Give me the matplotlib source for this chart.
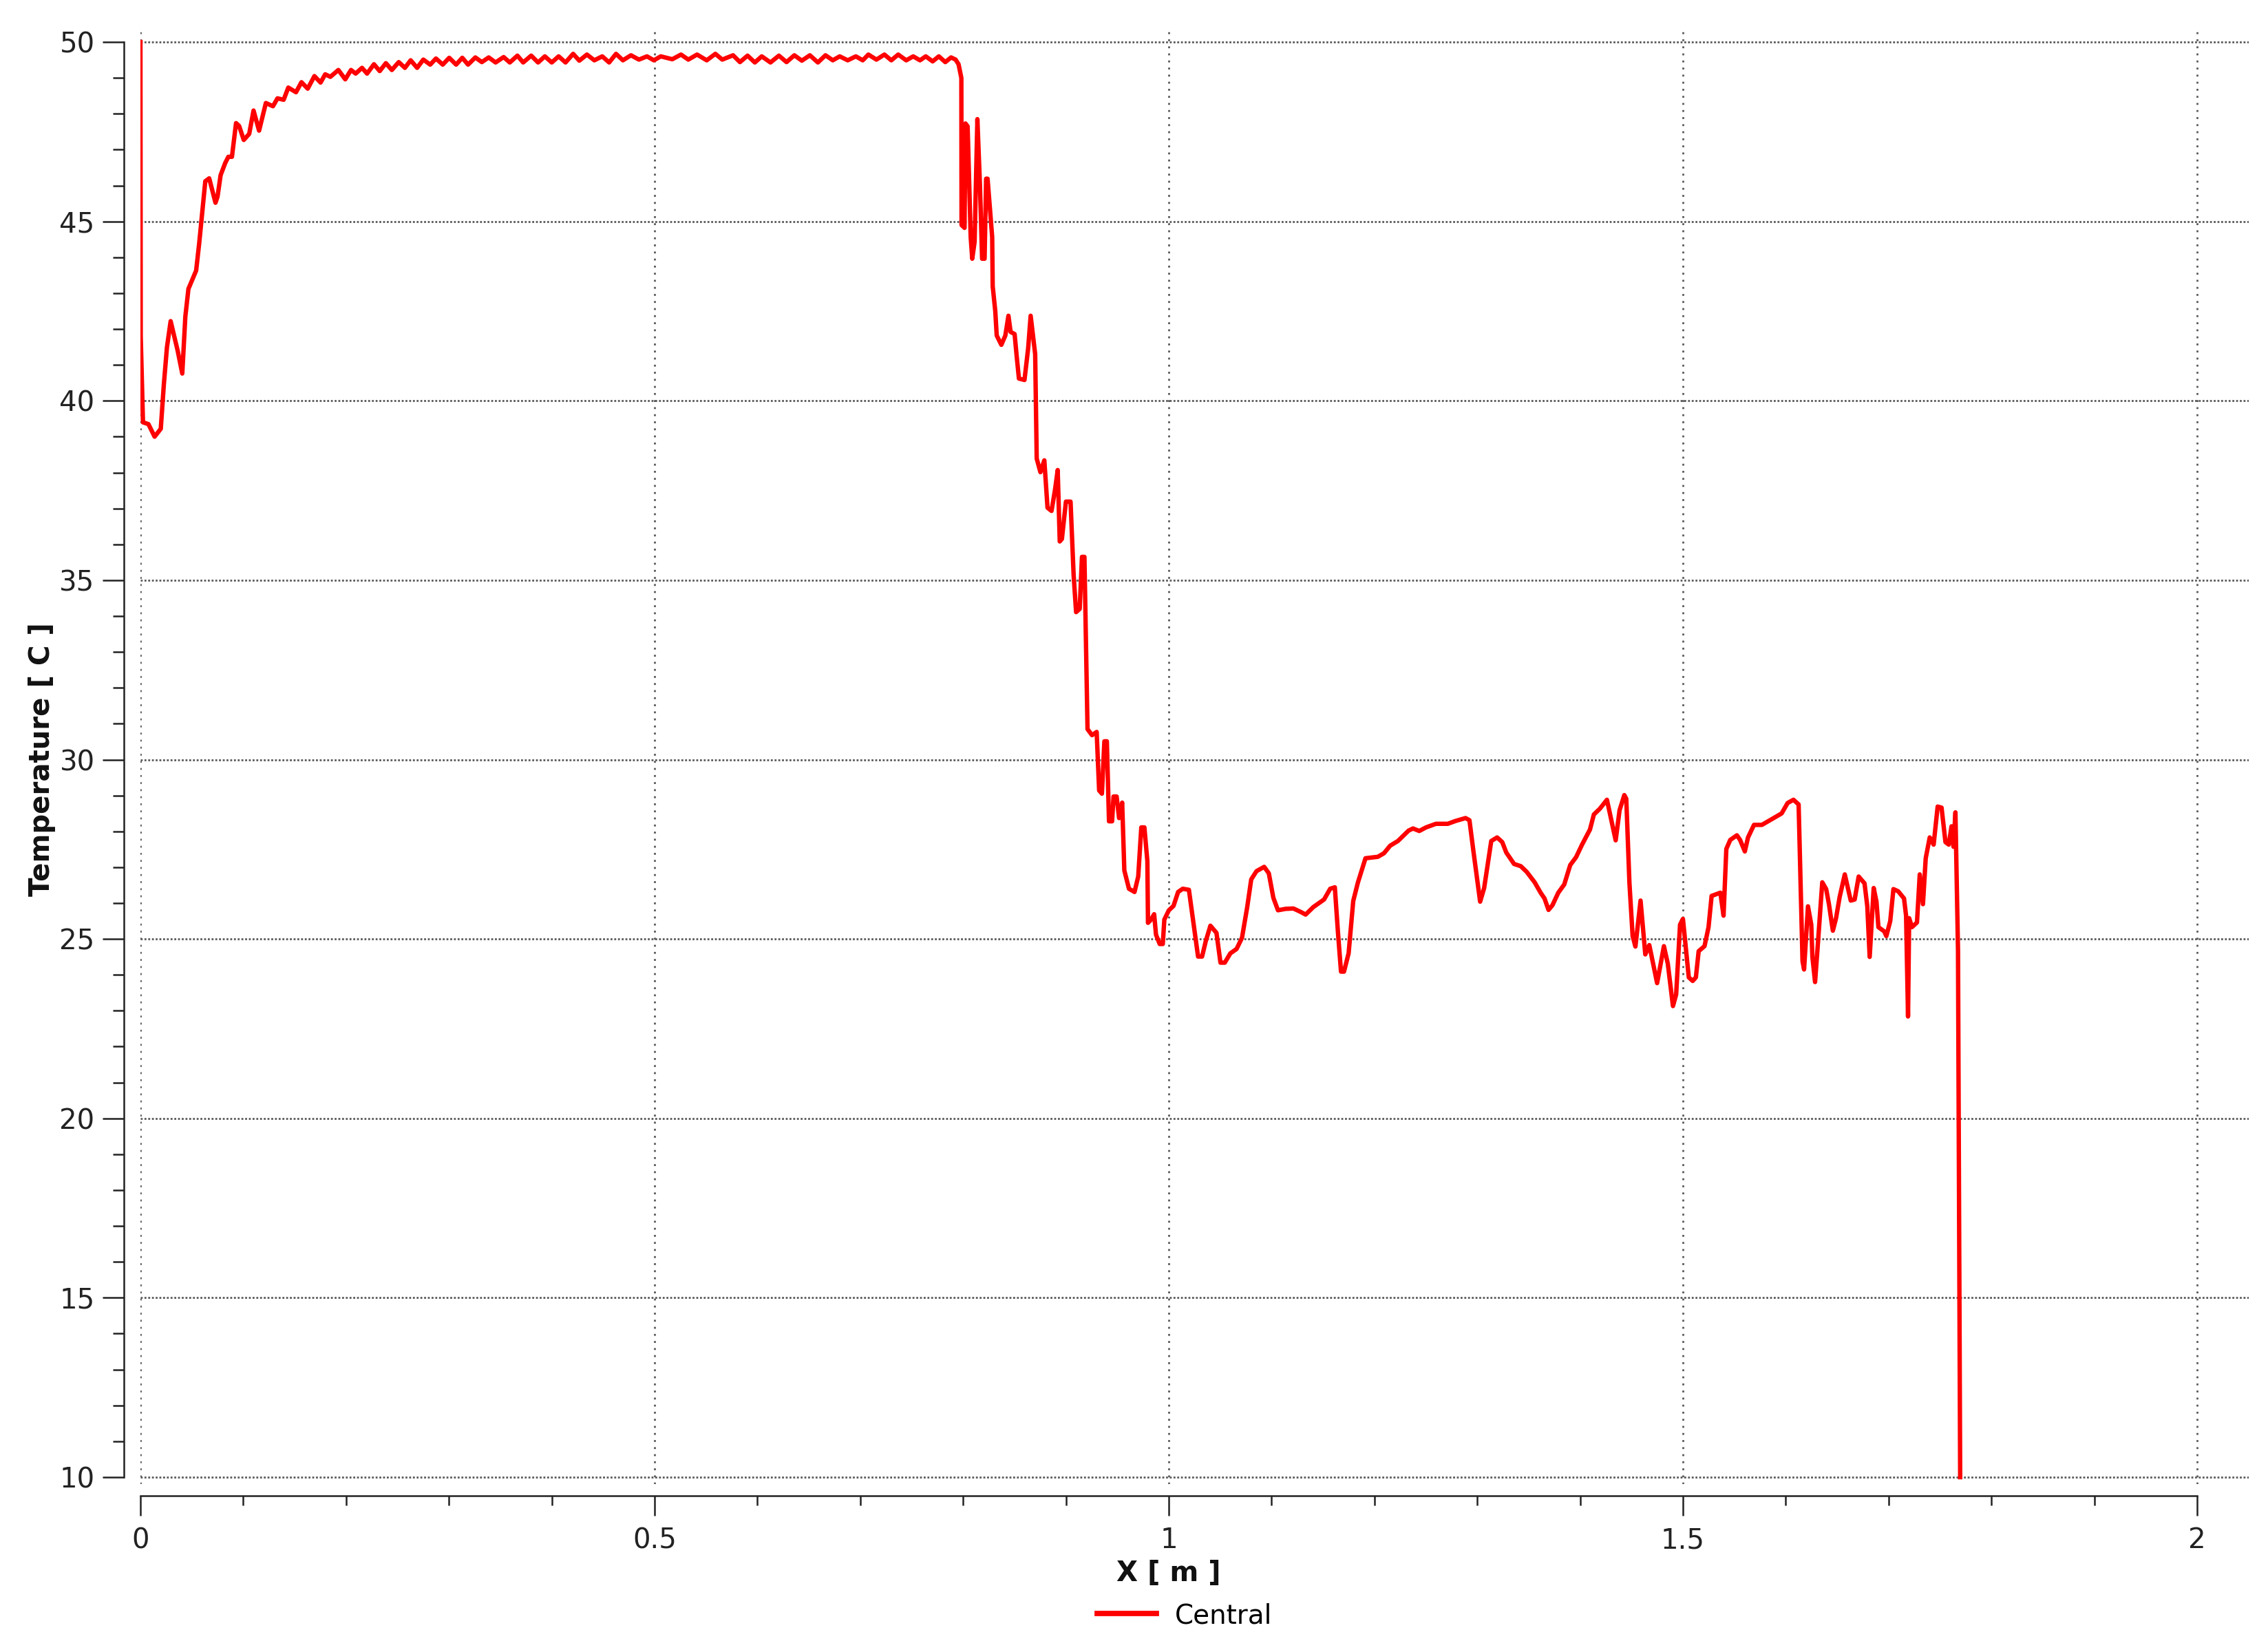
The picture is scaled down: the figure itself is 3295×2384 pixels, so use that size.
import matplotlib
matplotlib.use('Agg')
import matplotlib.pyplot as plt
from matplotlib.ticker import MultipleLocator, FixedLocator, FixedFormatter

# temperature along the centre line
# rise from the inlet
x_rise = [0, 0.0003, 0.0025, 0.0078, 0.0138, 0.0198, 0.0228, 0.0258, 0.0294, 0.0362,
          0.0407, 0.0437, 0.0467, 0.0542, 0.0572, 0.061, 0.0631, 0.0669, 0.073, 0.075,
          0.078, 0.0825, 0.0855, 0.089, 0.093, 0.096, 0.1005, 0.1058, 0.11, 0.1154,
          0.122, 0.1289, 0.1333, 0.1393, 0.1438, 0.1513, 0.1566, 0.1627, 0.1692, 0.1752,
          0.1797]
t_rise = [50, 41.8, 39.4, 39.35, 39.0, 39.22, 40.46, 41.49, 42.22, 41.4,
          40.76, 42.35, 43.12, 43.63, 44.40, 45.52, 46.12, 46.2, 45.52, 45.69,
          46.29, 46.63, 46.80, 46.80, 47.74, 47.66, 47.27, 47.44, 48.09, 47.53,
          48.30, 48.21, 48.43, 48.39, 48.73, 48.60, 48.88, 48.70, 49.05, 48.87,
          49.10]

# rippled plateau
x_plateau = [0.1847, 0.1925, 0.1992, 0.2048, 0.2093, 0.2155, 0.2204, 0.2271, 0.2327, 0.2387,
             0.2445, 0.2512, 0.2572, 0.2628, 0.2691, 0.2751, 0.2818, 0.2874, 0.2940, 0.3003,
             0.3070, 0.3130, 0.3186, 0.3257, 0.3320, 0.3387, 0.3454, 0.3532, 0.3592, 0.3666,
             0.3722, 0.3800, 0.3867, 0.3933, 0.4000, 0.4067, 0.4134, 0.4208, 0.4268, 0.4342,
             0.4414, 0.4491, 0.4558, 0.4625, 0.4692, 0.4770, 0.4848, 0.4926, 0.4993,
             0.5060, 0.5172, 0.5257, 0.5328, 0.5413, 0.5507, 0.5591, 0.5658, 0.5763, 0.5830,
             0.5904, 0.5975, 0.6042, 0.6127, 0.6209, 0.6283, 0.6359, 0.6432, 0.6510, 0.6588,
             0.6662, 0.6733, 0.6800, 0.6878, 0.6957, 0.7024, 0.7079, 0.7157, 0.7235, 0.7302,
             0.7369, 0.7447, 0.7515, 0.7581, 0.7637, 0.7704, 0.7764, 0.7827, 0.7883, 0.7927,
             0.7956, 0.7983]
t_plateau = [49.03, 49.22, 48.96, 49.22, 49.12, 49.28, 49.12, 49.38, 49.19, 49.41,
             49.22, 49.44, 49.28, 49.49, 49.28, 49.51, 49.37, 49.54, 49.37, 49.56,
             49.37, 49.56, 49.37, 49.57, 49.44, 49.57, 49.43, 49.58, 49.43, 49.62,
             49.43, 49.62, 49.43, 49.60, 49.43, 49.60, 49.43, 49.67, 49.48, 49.65,
             49.49, 49.60, 49.43, 49.67, 49.49, 49.63, 49.51, 49.60, 49.49,
             49.60, 49.52, 49.65, 49.51, 49.65, 49.49, 49.67, 49.51, 49.63, 49.44,
             49.62, 49.43, 49.60, 49.43, 49.62, 49.44, 49.63, 49.48, 49.63, 49.43,
             49.63, 49.49, 49.60, 49.49, 49.60, 49.49, 49.65, 49.51, 49.65, 49.49,
             49.65, 49.49, 49.60, 49.49, 49.60, 49.46, 49.60, 49.44, 49.57, 49.51,
             49.38, 49.00]

# the big drop down to ~25 C, (x, T) pairs
drop_points = [
    (0.7985, 44.90), (0.8014, 44.82), (0.8023, 47.73), (0.8044, 47.65), (0.8074, 44.56),
    (0.8089, 43.96), (0.8112, 44.43), (0.8139, 47.85), (0.8164, 46.01), (0.8185, 43.96),
    (0.8209, 43.96), (0.8224, 46.19), (0.8238, 46.19), (0.8283, 44.56), (0.8288, 43.19),
    (0.8313, 42.50), (0.8327, 41.82), (0.8372, 41.56), (0.8411, 41.82), (0.8441, 42.37),
    (0.8462, 41.92), (0.8501, 41.86), (0.8522, 41.22), (0.8543, 40.62), (0.8597, 40.58),
    (0.8633, 41.47), (0.8657, 42.37), (0.8701, 41.30), (0.8716, 38.39), (0.8752, 38.01),
    (0.8790, 38.34), (0.8821, 37.02), (0.8860, 36.93), (0.8895, 37.54), (0.8920, 38.07),
    (0.8940, 36.08), (0.8961, 36.15), (0.9000, 37.19), (0.9045, 37.19), (0.9075, 35.14),
    (0.9099, 34.11), (0.9134, 34.20), (0.9156, 35.65), (0.9180, 35.65), (0.9210, 30.85),
    (0.9254, 30.68), (0.9299, 30.77), (0.9323, 29.14), (0.9350, 29.05), (0.9374, 30.51),
    (0.9398, 30.51), (0.9419, 28.28), (0.9449, 28.28), (0.9463, 28.97), (0.9493, 28.97),
    (0.9517, 28.37), (0.9547, 28.80), (0.9568, 26.91), (0.9613, 26.40), (0.9667, 26.31),
    (0.9703, 26.74), (0.9733, 28.11), (0.9763, 28.11), (0.9792, 27.17), (0.9798, 25.45),
    (0.9828, 25.54), (0.9858, 25.69), (0.9876, 25.12), (0.9912, 24.86), (0.9942, 24.86),
    (0.9957, 25.54), (1.0001, 25.80), (1.0046, 25.92), (1.0091, 26.31), (1.0136, 26.40),
    (1.0196, 26.37), (1.0240, 25.45), (1.0285, 24.51), (1.0324, 24.51), (1.0360, 24.94),
    (1.0405, 25.37), (1.0464, 25.17), (1.0503, 24.34), (1.0545, 24.34), (1.0599, 24.60),
    (1.0659, 24.72), (1.0712, 25.03), (1.0763, 25.89), (1.0802, 26.66), (1.0853, 26.89),
    (1.0928, 27.01), (1.0973, 26.83), (1.1017, 26.15), (1.1062, 25.80), (1.1137, 25.84),
    (1.1212, 25.85), (1.1286, 25.75), (1.1331, 25.68), (1.1406, 25.89), (1.1510, 26.10),
    (1.1570, 26.40), (1.1615, 26.44), (1.1645, 25.20), (1.1675, 24.09), (1.1704, 24.09),
    (1.1749, 24.60), (1.1794, 26.06), (1.1839, 26.57), (1.1913, 27.25), (1.2033, 27.29),
    (1.2093, 27.39), (1.2153, 27.60), (1.2228, 27.73), (1.2332, 28.02),
]

# noisy tail and the outlet spike down to 10 C
tail_points = [
    (1.2375, 28.08), (1.2436, 28.01), (1.2502, 28.11), (1.2598, 28.21), (1.2713, 28.21),
    (1.2790, 28.29), (1.2886, 28.37), (1.2924, 28.31), (1.2963, 27.44), (1.3028, 26.04),
    (1.3067, 26.42), (1.3136, 27.73), (1.3193, 27.83), (1.3243, 27.70), (1.3282, 27.41),
    (1.3358, 27.09), (1.3423, 27.03), (1.3481, 26.87), (1.3558, 26.58), (1.3616, 26.29),
    (1.3654, 26.13), (1.3693, 25.81), (1.3731, 25.94), (1.3788, 26.29), (1.3846, 26.52),
    (1.3904, 27.06), (1.3961, 27.28), (1.4019, 27.63), (1.4096, 28.05), (1.4134, 28.47),
    (1.4192, 28.63), (1.4261, 28.88), (1.4307, 28.27), (1.4346, 27.75), (1.4384, 28.59),
    (1.4430, 29.01), (1.4449, 28.91), (1.4480, 26.55), (1.4511, 25.08), (1.4538, 24.79),
    (1.4588, 26.07), (1.4634, 24.57), (1.4673, 24.83), (1.4749, 23.77), (1.4815, 24.80),
    (1.4853, 24.31), (1.4903, 23.13), (1.4934, 23.45), (1.4972, 25.40), (1.5000, 25.56),
    (1.5057, 23.93), (1.5095, 23.83), (1.5126, 23.93), (1.5153, 24.66), (1.5210, 24.80),
    (1.5249, 25.33), (1.5279, 26.20), (1.5364, 26.29), (1.5395, 25.65), (1.5422, 27.51),
    (1.5460, 27.76), (1.5525, 27.89), (1.5556, 27.76), (1.5602, 27.44), (1.5633, 27.83),
    (1.5691, 28.18), (1.5768, 28.18), (1.5864, 28.34), (1.5960, 28.50), (1.6018, 28.79),
    (1.6075, 28.88), (1.6125, 28.75), (1.6163, 24.38), (1.6178, 24.15), (1.6216, 25.91),
    (1.6248, 25.40), (1.6259, 24.50), (1.6285, 23.80), (1.6316, 25.01), (1.6355, 26.58),
    (1.6393, 26.39), (1.6420, 25.97), (1.6458, 25.23), (1.6489, 25.58), (1.6524, 26.17),
    (1.6574, 26.80), (1.6632, 26.07), (1.6670, 26.10), (1.6709, 26.74), (1.6766, 26.55),
    (1.6793, 25.91), (1.6816, 24.50), (1.6855, 26.42), (1.6882, 26.04), (1.6901, 25.33),
    (1.6958, 25.21), (1.6978, 25.08), (1.7016, 25.50), (1.7047, 26.39), (1.7093, 26.33),
    (1.7150, 26.13), (1.7170, 25.65), (1.7189, 22.84), (1.7200, 25.58), (1.7227, 25.33),
    (1.7276, 25.46), (1.7303, 26.80), (1.7334, 25.97), (1.7361, 27.25), (1.7400, 27.83),
    (1.7438, 27.63), (1.7477, 28.69), (1.7515, 28.66), (1.7553, 27.70), (1.7585, 27.63),
    (1.7612, 28.14), (1.7631, 27.57), (1.7650, 28.53), (1.7675, 24.68), (1.7696, 10.0),
]

x_ticks = [0, 0.5, 1, 1.5, 2]
x_tick_labels = ['0', '0.5', '1', '1.5', '2']
y_ticks = [10, 15, 20, 25, 30, 35, 40, 45, 50]
y_tick_labels = ['10', '15', '20', '25', '30', '35', '40', '45', '50']

series_label = 'Central'
x_label = 'X [ m ]'
y_label = 'Temperature [ C ]'


def main():
    x = x_rise + x_plateau + [p[0] for p in drop_points] + [p[0] for p in tail_points]
    t = t_rise + t_plateau + [p[1] for p in drop_points] + [p[1] for p in tail_points]

    fig = plt.figure(figsize=(16.475, 11.92), dpi=200)
    ax = fig.add_axes([0.06191, 0.09547, 0.92950, 0.88549])

    ax.plot(x, t, color='#ff0000', lw=2.3, label=series_label, solid_joinstyle='round')

    ax.set_xlim(0, 2.05)
    ax.set_ylim(9.8, 50.3)

    # detached axes like the CFD-Post chart
    ax.spines['top'].set_visible(False)
    ax.spines['right'].set_visible(False)
    ax.spines['left'].set_position(('outward', 8.6))
    ax.spines['bottom'].set_position(('outward', 5.9))
    ax.spines['left'].set_bounds(10, 50)
    ax.spines['bottom'].set_bounds(0, 2)
    for s in ('left', 'bottom'):
        ax.spines[s].set_linewidth(0.9)
        ax.spines[s].set_color('#222222')

    ax.xaxis.set_major_locator(FixedLocator(x_ticks))
    ax.xaxis.set_major_formatter(FixedFormatter(x_tick_labels))
    ax.xaxis.set_minor_locator(MultipleLocator(0.1))
    ax.yaxis.set_major_locator(FixedLocator(y_ticks))
    ax.yaxis.set_major_formatter(FixedFormatter(y_tick_labels))
    ax.yaxis.set_minor_locator(MultipleLocator(1))

    ax.tick_params(axis='y', which='major', length=11, width=0.9, pad=4.3,
                   labelsize=14.5, color='#222222', labelcolor='#222222')
    ax.tick_params(axis='y', which='minor', length=5.8, width=0.9, color='#222222')
    ax.tick_params(axis='x', which='major', length=10.5, width=0.9, pad=5.8,
                   labelsize=14.5, color='#222222', labelcolor='#222222')
    ax.tick_params(axis='x', which='minor', length=5, width=0.9, color='#222222')

    # dotted grid
    ax.set_axisbelow(True)
    ax.xaxis.grid(True, color='#5a5a5a', lw=1.0, linestyle=(0, (1, 2.7)))
    ax.yaxis.grid(True, color='#5a5a5a', lw=1.0, linestyle=(0, (1, 0.95)))

    ax.set_xlabel(x_label, fontsize=14.5, fontweight='bold', color='#111111')
    ax.xaxis.set_label_coords(1 / 2.05, -0.052)
    ax.set_ylabel(y_label, fontsize=14.5, fontweight='bold', color='#111111')
    ax.yaxis.set_label_coords(-0.040, (30 - 9.8) / 40.5)

    leg = fig.legend(loc='center', bbox_to_anchor=(0.5224, 0.0155), frameon=False,
                     handlelength=2.2, handletextpad=0.7,
                     prop={'family': ['Liberation Sans Narrow', 'DejaVu Sans'], 'size': 14})
    for h in leg.legend_handles:
        h.set_linewidth(2.8)

    plt.savefig('out.png', dpi=200)


if __name__ == "__main__":
    main()
